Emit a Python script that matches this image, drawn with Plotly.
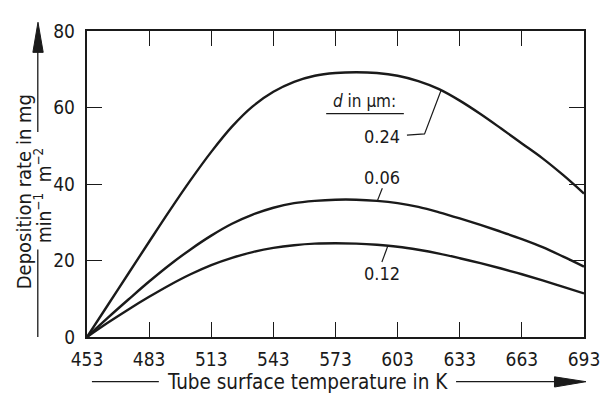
import numpy as np
import plotly.graph_objects as go

# ---- data ----
temperature_K = [453, 463, 473, 483, 493, 503, 513, 523, 533, 543, 553, 563, 573,
                 583, 593, 603, 613, 623, 633, 643, 653, 663, 673, 683, 693]
rate_d024 = [0, 8.3, 16.6, 24.9, 33.1, 41.0, 48.4, 55.0, 60.3, 64.1, 66.7, 68.3, 69.0,
             69.2, 69.0, 68.3, 66.9, 64.8, 61.8, 58.3, 54.5, 50.6, 46.7, 42.3, 37.5]
rate_d006 = [0, 5.0, 9.8, 14.5, 18.9, 22.9, 26.5, 29.6, 32.0, 33.8, 35.0, 35.6, 35.9,
             35.9, 35.6, 35.0, 34.0, 32.6, 31.0, 29.3, 27.5, 25.6, 23.5, 21.0, 18.4]
rate_d012 = [0, 3.7, 7.2, 10.5, 13.6, 16.4, 18.8, 20.7, 22.2, 23.3, 24.0, 24.4, 24.5,
             24.4, 24.1, 23.6, 22.8, 21.8, 20.6, 19.3, 17.9, 16.4, 14.8, 13.1, 11.4]
series_labels = ["0.24", "0.06", "0.12"]
x_ticks = [453, 483, 513, 543, 573, 603, 633, 663, 693]
y_ticks = [0, 20, 40, 60, 80]

FONT = "DejaVu Sans Condensed, Liberation Sans Narrow, DejaVu Sans, sans-serif"
INK = "#1a1a1a"
FS = 19

fig = go.Figure()
for vals, lab in zip([rate_d024, rate_d006, rate_d012], series_labels):
    fig.add_trace(go.Scatter(x=temperature_K, y=vals, mode="lines", name=lab,
                             line=dict(color=INK, width=2.4, shape="spline", smoothing=1.0),
                             showlegend=False, hoverinfo="x+y"))

# page offset (default body margin) and plot-area geometry in screen pixels
OFF = 8
L, R, T, B = 87, 592, 22, 337
W, H = R - L, B - T
def px(x):
    return (x - L) / W
def py(y):
    return (B - y) / H

anns = []
shapes = []

def ann(x, y, text, size=18, **kw):
    d = dict(x=x, y=y, xref="x", yref="y", text=text, showarrow=False,
             font=dict(family=FONT, size=size, color=INK))
    d.update(kw)
    anns.append(d)

ann(587, 61.8, "<i>d</i> in μm:", size=17)
shapes.append(dict(type="line", xref="x", yref="y", x0=568.5, x1=606, y0=58.4, y1=58.4,
                   line=dict(color=INK, width=1.3)))
ann(595.5, 52.3, series_labels[0])
ann(595.5, 41.8, series_labels[1])
ann(595.5, 16.6, series_labels[2])

# leader lines ending on the curves
t24 = 624
y24 = float(np.interp(t24, temperature_K, rate_d024))
shapes.append(dict(type="path", xref="x", yref="y",
                   path=f"M 607.5,52.8 L 616,53.1 L {t24},{y24}",
                   line=dict(color=INK, width=1.2)))
t06 = 593.2
y06 = float(np.interp(t06, temperature_K, rate_d006))
shapes.append(dict(type="line", xref="x", yref="y", x0=595.6, y0=38.9, x1=t06, y1=y06,
                   line=dict(color=INK, width=1.2)))
t12 = 598.3
y12 = float(np.interp(t12, temperature_K, rate_d012))
shapes.append(dict(type="line", xref="x", yref="y", x0=t12, y0=y12, x1=595.4, y1=19.6,
                   line=dict(color=INK, width=1.2)))

# y-axis title (rotated, two lines) with arrow
anns.append(dict(x=px(23), y=py(188), xref="paper", yref="paper", text="Deposition rate in mg",
                 textangle=-90, showarrow=False, xanchor="center", yanchor="middle",
                 font=dict(family=FONT, size=20, color=INK)))
anns.append(dict(x=px(42), y=py(191), xref="paper", yref="paper",
                 text="min<sup>−1</sup>  m<sup>−2</sup>",
                 textangle=-90, showarrow=False, xanchor="center", yanchor="middle",
                 font=dict(family=FONT, size=19, color=INK)))
shapes.append(dict(type="line", xref="paper", yref="paper", x0=px(37), x1=px(37),
                   y0=py(337), y1=py(247), line=dict(color=INK, width=1.3)))
shapes.append(dict(type="line", xref="paper", yref="paper", x0=px(37), x1=px(37),
                   y0=py(126), y1=py(40), line=dict(color=INK, width=1.3)))
shapes.append(dict(type="path", xref="paper", yref="paper",
                   path=f"M {px(32)},{py(44)} L {px(42.5)},{py(44)} L {px(37.2)},{py(13)} Z",
                   fillcolor=INK, line=dict(color=INK, width=1)))

# x-axis title with arrow
anns.append(dict(x=px(311), y=py(383.5), xref="paper", yref="paper",
                 text="Tube surface temperature in K", showarrow=False,
                 xanchor="center", yanchor="middle",
                 font=dict(family=FONT, size=20.5, color=INK)))
shapes.append(dict(type="line", xref="paper", yref="paper", x0=px(92), x1=px(160),
                   y0=py(383), y1=py(383), line=dict(color=INK, width=1.3)))
shapes.append(dict(type="line", xref="paper", yref="paper", x0=px(462), x1=px(566),
                   y0=py(383), y1=py(383), line=dict(color=INK, width=1.3)))
shapes.append(dict(type="path", xref="paper", yref="paper",
                   path=f"M {px(562)},{py(378)} L {px(562)},{py(388.5)} L {px(594)},{py(383)} Z",
                   fillcolor=INK, line=dict(color=INK, width=1)))

axis_common = dict(showgrid=False, zeroline=False, showline=True, linecolor=INK,
                   linewidth=2.4, mirror="ticks", ticks="inside", ticklen=15,
                   tickwidth=1.3, tickcolor=INK,
                   tickfont=dict(family=FONT, size=FS, color=INK))

fig.update_layout(
    width=612 - OFF, height=400 - OFF,
    margin=dict(l=L - OFF, r=612 - R, t=T - OFF, b=400 - B),
    paper_bgcolor="white", plot_bgcolor="white",
    xaxis=dict(range=[453, 693], tickvals=x_ticks, ticktext=[str(v) for v in x_ticks],
               ticklabelstandoff=4, **axis_common),
    yaxis=dict(range=[0, 80], tickvals=y_ticks, ticktext=[str(v) for v in y_ticks],
               ticklabelstandoff=6, **axis_common),
    annotations=anns, shapes=shapes,
)

fig.write_html("out.html")
